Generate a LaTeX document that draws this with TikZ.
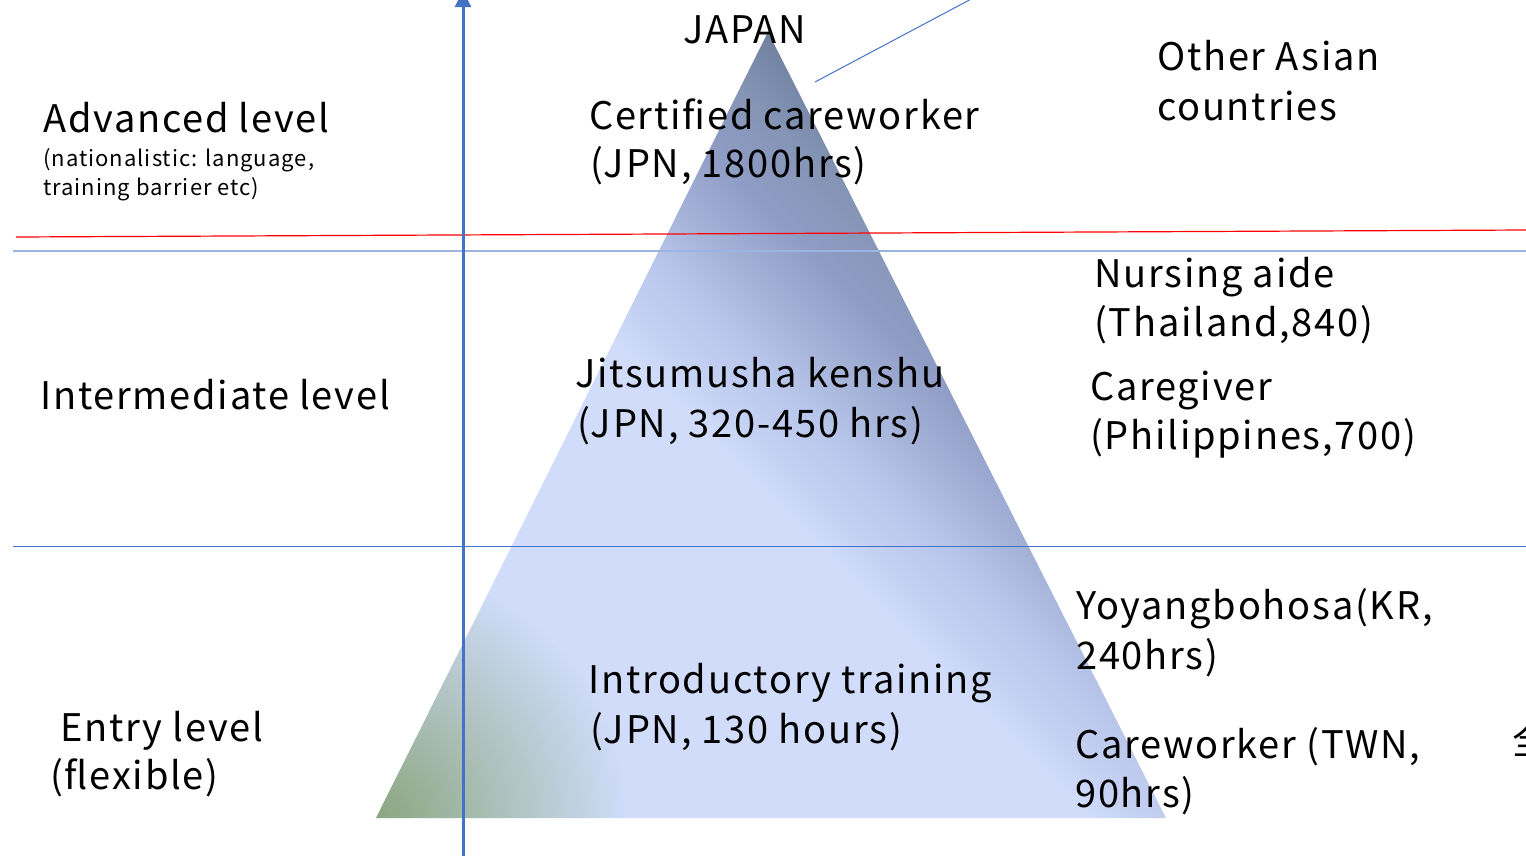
\documentclass[tikz,border=0pt]{standalone}
\usepackage{fontspec}
\setmainfont[LetterSpace=4.6]{Noto Sans CJK JP}
\usetikzlibrary{arrows.meta,fadings}

\definecolor{axisblue}{HTML}{4472C4}
\definecolor{bandblue}{HTML}{9DB3E0}
\definecolor{pyrA}{HTML}{D0DCFA}
\definecolor{pyrB}{HTML}{C6D2F3}
\definecolor{pyrC}{HTML}{B8C5EB}
\definecolor{pyrD}{HTML}{A5B2D8}
\definecolor{pyrE}{HTML}{8F9CC5}
\definecolor{pyrF}{HTML}{8595B5}
\definecolor{pyrG}{HTML}{6E7E9E}
\definecolor{pyrgreen}{HTML}{8CA67F}

% diagonal colour ramp of the pyramid (light lower left, dark upper right)
\pgfdeclareverticalshading{pyrshade}{100bp}{%
  color(0bp)=(pyrA); color(48.2bp)=(pyrA); color(49.3bp)=(pyrB);
  color(51.4bp)=(pyrC); color(53.2bp)=(pyrD); color(55.4bp)=(pyrE);
  color(57.7bp)=(pyrF); color(60bp)=(pyrG); color(100bp)=(pyrG)}

\tikzfading[name=cornerglow, inner color=transparent!0, outer color=transparent!100]

\tikzset{
  big/.style={anchor=base west, inner sep=0pt, font=\fontsize{38}{46}\selectfont},
  small/.style={anchor=base west, inner sep=0pt, font=\fontsize{22}{28}\selectfont},
  axisarrow/.style={draw=axisblue, line width=3pt, -{Triangle[length=16pt,width=16pt]}},
}

\begin{document}
\begin{tikzpicture}[x=1pt, y=-1pt]
\useasboundingbox (0,0) rectangle (1526,855);
\clip (0,0) rectangle (1526,855);

% pyramid of training levels
\coordinate (apex) at (768,32);
\coordinate (baseL) at (376,818);
\coordinate (baseR) at (1166,818);
\begin{scope}
  \clip (apex) -- (baseR) -- (baseL) -- cycle;
  \begin{scope}[transform canvas={rotate around={-45:(771,425)}}]
    \shade[shading=pyrshade] (71,-275) rectangle (1471,1125);
  \end{scope}
  \fill[pyrgreen, path fading=cornerglow] (baseL) circle (250);
\end{scope}

% level boundaries
\coordinate (redL) at (16,237);
\coordinate (redR) at (1526,230);
\draw[red, line width=1.2pt] (redL) -- (redR);
\coordinate (bandL) at (13,251);
\coordinate (bandR) at (1526,251);
\draw[bandblue, line width=1.8pt] (bandL) -- (bandR);
\coordinate (midL) at (13,546);
\coordinate (midR) at (1526,546);
\draw[axisblue, line width=1pt] (midL) -- (midR);

% vertical axis
\coordinate (axbot) at (463,860);
\coordinate (axtop) at (463,-9);
\draw[axisarrow] (axbot) -- (axtop);

% callout line
\coordinate (callA) at (815,82);
\coordinate (callB) at (975,-3);
\draw[axisblue, line width=1pt] (callA) -- (callB);

% level labels
\node[big] (japan) at (683,43) {JAPAN};
\node[big] (adv) at (43,132) {Advanced level};
\node[small] (adv2) at (43,166) {(nationalistic: language,};
\node[small] (adv3) at (43,195) {training barrier etc)};
\node[big] (inter) at (40,409) {Intermediate level};
\node[big] (entry1) at (60,741) {Entry level};
\node[big] (entry2) at (50,789) {(flexible)};

% Japanese courses
\node[big] (cert1) at (589,129) {Certified careworker};
\node[big] (cert2) at (590,177) {(JPN, 1800hrs)};
\node[big] (jit1) at (575,387) {Jitsumusha kenshu};
\node[big] (jit2) at (577,437) {(JPN, 320-450 hrs)};
\node[big] (intro1) at (588,693) {Introductory training};
\node[big] (intro2) at (590,743) {(JPN, 130 hours)};

% other countries
\node[big] (oth1) at (1157,70) {Other Asian};
\node[big] (oth2) at (1157,120) {countries};
\node[big] (th1) at (1094,287) {Nursing aide};
\node[big] (th2) at (1094,336) {(Thailand,840)};
\node[big] (ph1) at (1090,400) {Caregiver};
\node[big] (ph2) at (1090,449) {(Philippines,700)};
\node[big] (kr1) at (1076,619) {Yoyangbohosa(KR,};
\node[big] (kr2) at (1076,669) {240hrs)};
\node[big] (tw1) at (1075,758) {Careworker (TWN,};
\node[big] (tw2) at (1075,807) {90hrs)};
\node[big] (edge) at (1512,754) {全};
\end{tikzpicture}
\end{document}
